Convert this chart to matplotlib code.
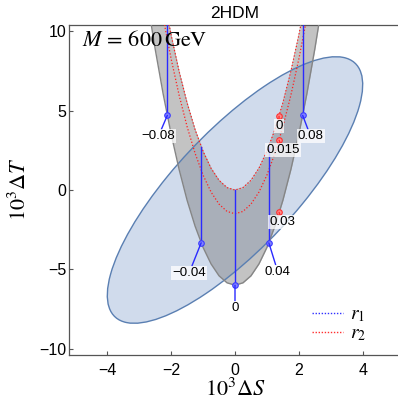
import numpy as np
import matplotlib
matplotlib.use("Agg")
import matplotlib.pyplot as plt
from matplotlib.patches import Ellipse
from matplotlib.lines import Line2D

plt.rcParams['font.family'] = ['Liberation Sans', 'DejaVu Sans']
plt.rcParams['mathtext.fontset'] = 'stix'

# ---------------- data ----------------
S_GRID = [-2.75, -2.5, -2.25, -2.0, -1.75, -1.5, -1.25, -1.0, -0.75, -0.5, -0.25, 0.0,
          0.25, 0.5, 0.75, 1.0, 1.25, 1.5, 1.75, 2.0, 2.25, 2.5, 2.75]
# outer boundary of grey band (r2 = 0.03)
T_OUTER = [12.0, 8.88, 6.05, 3.52, 1.29, -0.65, -2.28, -3.62, -4.66, -5.41, -5.85, -6.0,
           -5.85, -5.41, -4.66, -3.62, -2.28, -0.65, 1.29, 3.52, 6.05, 8.88, 12.0]
# r2 = 0 curve (inner boundary of the band)
T_R2_0 = [18.45, 15.25, 12.35, 9.76, 7.47, 5.49, 3.81, 2.44, 1.37, 0.61, 0.15, 0.0,
          0.15, 0.61, 1.37, 2.44, 3.81, 5.49, 7.47, 9.76, 12.35, 15.25, 18.45]
# r2 = 0.015 curve
T_R2_015 = [16.95, 13.75, 10.85, 8.26, 5.97, 3.99, 2.31, 0.94, -0.13, -0.89, -1.35, -1.5,
            -1.35, -0.89, -0.13, 0.94, 2.31, 3.99, 5.97, 8.26, 10.85, 13.75, 16.95]

R1_LABELS = ["\u22120.08", "\u22120.04", "0", "0.04", "0.08"]
R1_S = [-2.12, -1.06, 0.0, 1.06, 2.12]
R1_T_BOTTOM = [4.70, -3.33, -6.0, -3.33, 4.70]
R1_T_TOP = [10.97, 2.74, 0.0, 2.74, 10.97]

R2_LABELS = ["0", "0.015", "0.03"]
R2_S = [1.38, 1.38, 1.38]
R2_T = [4.65, 3.14, -1.40]

ELLIPSE_CENTER = (0.0, 0.0)
ELLIPSE_SIG_S = 4.0
ELLIPSE_SIG_T = 8.4
ELLIPSE_RHO = 0.79

X_TICKS = [-4, -2, 0, 2, 4]
Y_TICKS = [-10, -5, 0, 5, 10]

# ---------------- figure ----------------
W, H = 398, 403
fig = plt.figure(figsize=(W / 100, H / 100), dpi=100)
ax = fig.add_axes([69 / W, (H - 355) / H, 332 / W, 330 / H])
ax.set_xlim(-5.2, 5.2)
ax.set_ylim(-10.4, 10.4)

# ellipse from covariance
cov = np.array([[ELLIPSE_SIG_S**2, ELLIPSE_RHO * ELLIPSE_SIG_S * ELLIPSE_SIG_T],
                [ELLIPSE_RHO * ELLIPSE_SIG_S * ELLIPSE_SIG_T, ELLIPSE_SIG_T**2]])
vals, vecs = np.linalg.eigh(cov)
ang = np.degrees(np.arctan2(vecs[1, 1], vecs[0, 1]))
ew, eh = 2 * np.sqrt(vals[1]), 2 * np.sqrt(vals[0])
ax.add_patch(Ellipse(ELLIPSE_CENTER, ew, eh, angle=ang, facecolor='#d0dbec',
                     edgecolor='none', zorder=1))

# grey band
ax.fill_between(S_GRID, T_OUTER, T_R2_0, color='#787878', alpha=0.44, lw=0, zorder=2)
ax.add_patch(Ellipse(ELLIPSE_CENTER, ew, eh, angle=ang, facecolor='none',
                     edgecolor='#5a7fb2', lw=1.0, zorder=3))
ax.plot(S_GRID, T_OUTER, color='#858585', lw=1.0, zorder=3)
ax.plot(S_GRID, T_R2_0, color='#a0a0a0', lw=0.5, zorder=3)

# r2 curves (red dotted)
ax.plot(S_GRID, T_R2_0, color='#ff2020', lw=0.9, ls=(0, (1, 1.6)), zorder=4)
ax.plot(S_GRID, T_R2_015, color='#ff2020', lw=0.9, ls=(0, (1, 1.6)), zorder=4)

# r1 lines (blue)
for s, t0, t1 in zip(R1_S, R1_T_BOTTOM, R1_T_TOP):
    ax.plot([s, s], [t0, t1], color='#2a2aff', lw=1.0, zorder=5)

ax.plot(R1_S, R1_T_BOTTOM, 'o', ms=4, mfc='#8080ff', mec='#3a3aff', mew=0.8, zorder=6)
ax.plot(R2_S, R2_T, 'o', ms=4, mfc='#ff8a8a', mec='#ff3030', mew=0.8, zorder=6)

bbox = dict(boxstyle='square,pad=0.08', fc='white', ec='none', alpha=0.75)
r1_off = [(-9, -21), (-12, -30), (0, -23), (9, -29), (8, -21)]
for lab, s, t, off in zip(R1_LABELS, R1_S, R1_T_BOTTOM, r1_off):
    ax.annotate(lab, (s, t), xytext=off, textcoords='offset pixels', ha='center',
                va='center', fontsize=9.6, bbox=bbox, zorder=7,
                arrowprops=dict(arrowstyle='-', color='#2a2aff', lw=1.0,
                                shrinkA=0, shrinkB=0))
r2_off = [(0, -10), (4, -10), (3, -10)]
for lab, s, t, off in zip(R2_LABELS, R2_S, R2_T, r2_off):
    ax.annotate(lab, (s, t), xytext=off, textcoords='offset pixels', ha='center',
                va='center', fontsize=9.6, bbox=bbox, zorder=7,
                arrowprops=dict(arrowstyle='-', color='#ff3030', lw=1.0,
                                shrinkA=0, shrinkB=0))

# text
ax.text((82 - 69) / 332, (355 - 46) / 330, r'$M\,=\,600\,\mathrm{GeV}$',
        transform=ax.transAxes, ha='left', va='baseline', fontsize=16, zorder=8)

# legend
handles = [Line2D([], [], color='#3030ff', lw=1.0, ls=(0, (1, 1.2))),
           Line2D([], [], color='#ff3030', lw=1.0, ls=(0, (1, 1.2)))]
ax.legend(handles, [r'$r_1$', r'$r_2$'], loc='lower right', bbox_to_anchor=(0.93, 0.0),
          frameon=False, fontsize=14, handlelength=1.6, handletextpad=0.35,
          labelspacing=0.05, borderaxespad=0.2)

# axes styling
ax.set_xticks(X_TICKS)
ax.set_yticks(Y_TICKS)
ax.set_xticklabels([str(v).replace('-', '\u2212') for v in X_TICKS])
ax.set_yticklabels([str(v).replace('-', '\u2212') for v in Y_TICKS])
ax.tick_params(direction='in', length=3, width=0.8, color='#555555', labelsize=11.5)
ax.tick_params(axis='x', pad=6)
ax.tick_params(axis='y', pad=2)
for side in ['left', 'bottom', 'top']:
    ax.spines[side].set_color('#555555')
    ax.spines[side].set_linewidth(0.9)
ax.spines['right'].set_visible(False)

fig.text(235 / W, 1 - 13 / H, '2HDM', ha='center', va='center', fontsize=12.5)
fig.text(235 / W, 1 - 390 / H, r'$10^3\Delta S$', ha='center', va='center', fontsize=16)
fig.text(20 / W, 1 - 189 / H, r'$10^3\Delta T$', ha='center', va='center', fontsize=16,
         rotation=90)

fig.savefig('out.png', dpi=100)
